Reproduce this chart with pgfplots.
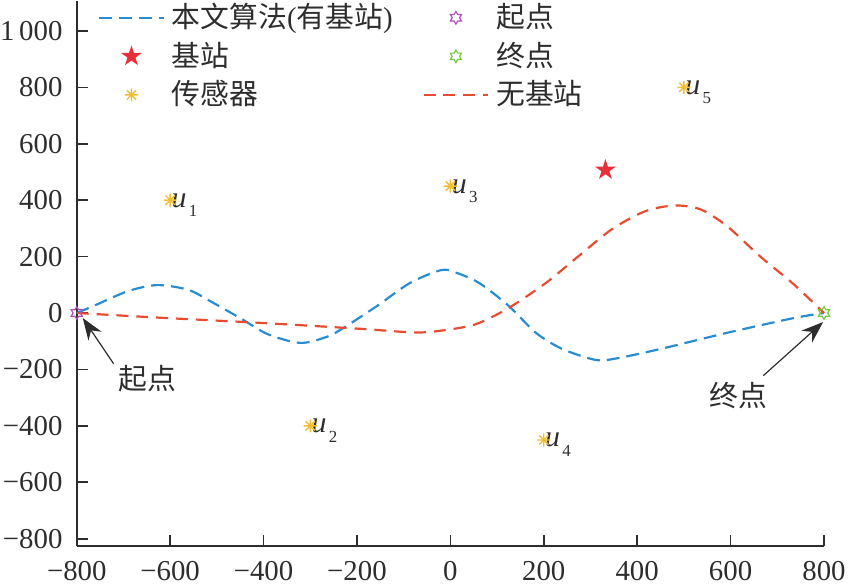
\documentclass[border=0pt]{standalone}
\usepackage{fontspec}
\setmainfont{Liberation Serif}
\newfontfamily\cjk{Noto Sans CJK SC}
\usepackage{pgfplots}
\pgfplotsset{compat=1.18}
\usetikzlibrary{arrows.meta}
\definecolor{cblue}{RGB}{40,140,210}
\definecolor{cred}{RGB}{232,76,48}
\definecolor{cstar}{RGB}{232,48,56}
\definecolor{cyel}{RGB}{245,190,50}
\definecolor{cpur}{RGB}{180,80,190}
\definecolor{cgrn}{RGB}{120,200,60}
\definecolor{caxis}{RGB}{45,45,45}
\pgfdeclareplotmark{hexagram}{%
  \pgfpathmoveto{\pgfpointpolar{90}{\pgfplotmarksize}}%
  \pgfpathlineto{\pgfpointpolar{120}{0.577*\pgfplotmarksize}}%
  \pgfpathlineto{\pgfpointpolar{150}{\pgfplotmarksize}}%
  \pgfpathlineto{\pgfpointpolar{180}{0.577*\pgfplotmarksize}}%
  \pgfpathlineto{\pgfpointpolar{210}{\pgfplotmarksize}}%
  \pgfpathlineto{\pgfpointpolar{240}{0.577*\pgfplotmarksize}}%
  \pgfpathlineto{\pgfpointpolar{270}{\pgfplotmarksize}}%
  \pgfpathlineto{\pgfpointpolar{300}{0.577*\pgfplotmarksize}}%
  \pgfpathlineto{\pgfpointpolar{330}{\pgfplotmarksize}}%
  \pgfpathlineto{\pgfpointpolar{0}{0.577*\pgfplotmarksize}}%
  \pgfpathlineto{\pgfpointpolar{30}{\pgfplotmarksize}}%
  \pgfpathlineto{\pgfpointpolar{60}{0.577*\pgfplotmarksize}}%
  \pgfpathclose\pgfusepathqstroke}
\pgfdeclareplotmark{pentagramf}{%
  \pgfpathmoveto{\pgfpointpolar{90}{\pgfplotmarksize}}%
  \pgfpathlineto{\pgfpointpolar{126}{0.382*\pgfplotmarksize}}%
  \pgfpathlineto{\pgfpointpolar{162}{\pgfplotmarksize}}%
  \pgfpathlineto{\pgfpointpolar{198}{0.382*\pgfplotmarksize}}%
  \pgfpathlineto{\pgfpointpolar{234}{\pgfplotmarksize}}%
  \pgfpathlineto{\pgfpointpolar{270}{0.382*\pgfplotmarksize}}%
  \pgfpathlineto{\pgfpointpolar{306}{\pgfplotmarksize}}%
  \pgfpathlineto{\pgfpointpolar{342}{0.382*\pgfplotmarksize}}%
  \pgfpathlineto{\pgfpointpolar{18}{\pgfplotmarksize}}%
  \pgfpathlineto{\pgfpointpolar{54}{0.382*\pgfplotmarksize}}%
  \pgfpathclose\pgfusepathqfill}
\pgfdeclareplotmark{ast8}{%
  \pgfpathmoveto{\pgfpointpolar{0}{\pgfplotmarksize}}\pgfpathlineto{\pgfpointpolar{180}{\pgfplotmarksize}}%
  \pgfpathmoveto{\pgfpointpolar{45}{\pgfplotmarksize}}\pgfpathlineto{\pgfpointpolar{225}{\pgfplotmarksize}}%
  \pgfpathmoveto{\pgfpointpolar{90}{\pgfplotmarksize}}\pgfpathlineto{\pgfpointpolar{270}{\pgfplotmarksize}}%
  \pgfpathmoveto{\pgfpointpolar{135}{\pgfplotmarksize}}\pgfpathlineto{\pgfpointpolar{315}{\pgfplotmarksize}}%
  \pgfusepathqstroke}
\pgfplotsset{
  lineleg/.style={legend image code/.code={\draw[##1] (0bp,0bp) -- (32.5bp,0bp);}},
  markleg/.style={legend image code/.code={\draw[mark repeat=2,mark phase=2,##1] plot coordinates {(0bp,0bp) (16.25bp,0bp) (32.5bp,0bp)};}},
}
\newcommand{\ulab}[1]{{\fontsize{15bp}{17bp}\selectfont\textit{u}\kern1.2bp\raisebox{-4.8bp}{\fontsize{8.5bp}{10bp}\selectfont #1}}}
\begin{document}
\fontsize{14.5bp}{17bp}\selectfont
\begin{tikzpicture}
\begin{axis}[
  scale only axis, width=376bp, height=274.4bp,
  xmin=-800, xmax=800, ymin=-827, ymax=1106,
  axis lines=left, axis line style={-, draw=caxis, line width=1bp},
  tick align=inside, major tick length=5.5bp,
  tick style={draw=caxis, line width=0.8bp},
  xtick={-800,-600,...,800},
  xticklabels={−800,−600,−400,−200,0,200,400,600,800},
  ytick={-800,-600,...,1000},
  yticklabels={−800,−600,−400,−200,0,200,400,600,800,1\,000},
  xticklabel style={inner sep=2.2bp, yshift=-5.3bp, text=caxis},
  yticklabel style={inner sep=0pt, xshift=-7bp, text=caxis},
  legend columns=2,
  legend cell align=left,
  legend style={draw=none, fill=none, at={(rel axis cs:0.028,1)}, anchor=north west,
    inner sep=0pt, nodes={inner sep=1bp, text=caxis}, row sep=3bp,
    /tikz/every odd column/.append style={column sep=2.5bp},
    /tikz/every even column/.append style={column sep=14bp}},
  clip=false,
]
\addplot[cblue, line width=1.1bp, dash pattern=on 6.5bp off 3.5bp, smooth, tension=0.5, lineleg] coordinates {
(-800,0) (-764,25) (-691,77) (-628,99) (-561,82) (-512,40) (-448,-20) (-391,-75)
(-321,-106) (-264,-84) (-230,-54) (-157,25) (-87,106) (-20,152) (12,143) (62,106)
(125,25) (183,-70) (239,-127) (310,-166) (352,-162) (451,-127) (593,-70) (735,-18) (800,0)};
\addlegendentry{{\cjk 本文算法}({\cjk 有基站})}
\addplot[only marks, mark=hexagram, mark size=3.2bp, cpur, line width=0.6bp, markleg] coordinates {(-800,0)};
\addlegendentry{\cjk 起点}
\addplot[only marks, mark=pentagramf, mark size=5.5bp, cstar, markleg] coordinates {(332,507)};
\addlegendentry{\cjk 基站}
\addplot[only marks, mark=hexagram, mark size=3.2bp, cgrn, line width=0.6bp, markleg] coordinates {(800,0)};
\addlegendentry{\cjk 终点}
\addplot[only marks, mark=ast8, mark size=3.3bp, cyel, line width=0.7bp, markleg] coordinates {
(-600,400) (-300,-400) (0,450) (200,-450) (500,800)};
\addlegendentry{\cjk 传感器}
\addplot[cred, line width=1.1bp, dash pattern=on 6bp off 4bp, smooth, tension=0.5, lineleg] coordinates {
(-800,0) (-618,-17) (-406,-35) (-193,-56) (-100,-67) (-50,-68) (19,-53) (62,-35)
(125,18) (204,106) (274,201) (345,296) (416,360) (480,381) (536,367) (593,307)
(663,201) (735,102) (800,0)};
\addlegendentry{\cjk 无基站}
\node[anchor=base west, inner sep=0pt, yshift=-3.5bp, xshift=0.5bp, text=caxis] at (axis cs:-600,400) {\ulab{1}};
\node[anchor=base west, inner sep=0pt, yshift=-3.5bp, xshift=0.5bp, text=caxis] at (axis cs:-300,-400) {\ulab{2}};
\node[anchor=base west, inner sep=0pt, yshift=-3.5bp, xshift=0.5bp, text=caxis] at (axis cs:0,450) {\ulab{3}};
\node[anchor=base west, inner sep=0pt, yshift=-3.5bp, xshift=0.5bp, text=caxis] at (axis cs:200,-450) {\ulab{4}};
\node[anchor=base west, inner sep=0pt, yshift=-3.5bp, xshift=0.5bp, text=caxis] at (axis cs:500,800) {\ulab{5}};
\draw[-{Stealth[length=11bp,width=8bp]}, line width=0.6bp, caxis] (axis cs:-721,-180) -- (axis cs:-787,-18);
\node[text=caxis] at (axis cs:-649,-232) {\cjk 起点};
\draw[-{Stealth[length=11bp,width=8bp]}, line width=0.6bp, caxis] (axis cs:670,-222) -- (axis cs:798,-32);
\node[text=caxis] at (axis cs:617,-292) {\cjk 终点};
\end{axis}
\end{tikzpicture}
\end{document}
